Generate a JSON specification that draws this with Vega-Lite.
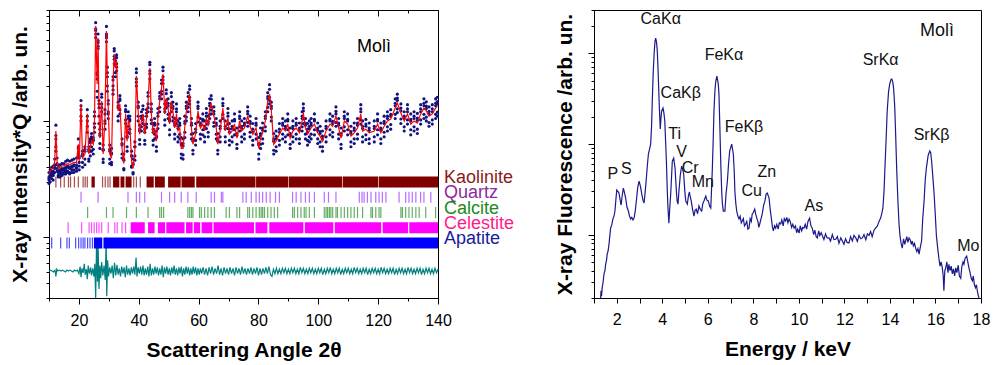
{
  "$schema": "https://vega.github.io/schema/vega-lite/v6.json",
  "padding": {"left": 8, "top": 9, "right": 5, "bottom": 2},
  "background": "white",
  "config": {
    "view": {"stroke": "black", "strokeWidth": 1},
    "font": "Liberation Sans",
    "axis": {"domainColor": "black", "tickColor": "black", "labelColor": "black", "titleColor": "black", "labelFont": "Liberation Sans", "titleFont": "Liberation Sans", "labelFontSize": 16, "titleFontSize": 21, "titleFontWeight": "bold", "grid": false, "labelFlush": false, "labelOverlap": false}
  },
  "datasets": {
    "xrd": [
      {"t":10.0,"c":35,"o1":33,"o2":29,"o3":36,"o4":32,"o5":31},{"t":10.4,"c":37,"o1":34,"o2":30,"o3":38,"o4":35,"o5":33},{"t":10.9,"c":39,"o1":36,"o2":32,"o3":40,"o4":37,"o5":34},{"t":11.4,"c":39,"o1":35,"o2":31,"o3":41,"o4":37,"o5":34},{"t":11.9,"c":45,"o1":40,"o2":36,"o3":47,"o4":42,"o5":39},{"t":12.3,"c":82,"o1":92,"o2":60,"o3":75,"o4":70,"o5":55},{"t":12.7,"c":45,"o1":42,"o2":37,"o3":48,"o4":43,"o5":39},{"t":13.1,"c":39,"o1":36,"o2":33,"o3":41,"o4":37,"o5":34},{"t":13.7,"c":40,"o1":37,"o2":33,"o3":42,"o4":38,"o5":35},{"t":14.3,"c":41,"o1":38,"o2":34,"o3":43,"o4":39,"o5":36},{"t":15.0,"c":41,"o1":39,"o2":35,"o3":43,"o4":38,"o5":36},{"t":15.6,"c":42,"o1":39,"o2":35,"o3":45,"o4":40,"o5":37},{"t":16.2,"c":43,"o1":40,"o2":36,"o3":46,"o4":41,"o5":37},{"t":16.9,"c":42,"o1":39,"o2":35,"o3":45,"o4":40,"o5":36},{"t":17.6,"c":43,"o1":40,"o2":36,"o3":46,"o4":41,"o5":38},{"t":18.3,"c":44,"o1":41,"o2":36,"o3":47,"o4":42,"o5":38},{"t":19.2,"c":44,"o1":40,"o2":37,"o3":48,"o4":42,"o5":39},{"t":19.8,"c":63,"o1":70,"o2":50,"o3":60,"o4":58,"o5":52},{"t":20.1,"c":45,"o1":48,"o2":38,"o3":44,"o4":50,"o5":41},{"t":20.7,"c":140,"o1":150,"o2":110,"o3":135,"o4":125,"o5":100},{"t":21.2,"c":48,"o1":55,"o2":40,"o3":50,"o4":52,"o5":44},{"t":22.0,"c":52,"o1":60,"o2":42,"o3":55,"o4":57,"o5":47},{"t":22.8,"c":115,"o1":125,"o2":90,"o3":110,"o4":100,"o5":80},{"t":23.3,"c":52,"o1":60,"o2":45,"o3":55,"o4":57,"o5":47},{"t":23.8,"c":61,"o1":70,"o2":50,"o3":65,"o4":67,"o5":55},{"t":24.2,"c":67,"o1":78,"o2":55,"o3":70,"o4":73,"o5":60},{"t":24.8,"c":63,"o1":72,"o2":52,"o3":68,"o4":69,"o5":57},{"t":25.2,"c":100,"o1":120,"o2":80,"o3":95,"o4":110,"o5":88},{"t":25.6,"c":655,"o1":700,"o2":520,"o3":620,"o4":600,"o5":560},{"t":26.1,"c":208,"o1":260,"o2":160,"o3":230,"o4":180,"o5":250},{"t":26.4,"c":516,"o1":560,"o2":420,"o3":490,"o4":470,"o5":440},{"t":26.7,"c":122,"o1":150,"o2":95,"o3":130,"o4":110,"o5":140},{"t":27.0,"c":71,"o1":85,"o2":58,"o3":75,"o4":78,"o5":64},{"t":27.6,"c":148,"o1":170,"o2":120,"o3":140,"o4":160,"o5":130},{"t":28.1,"c":52,"o1":62,"o2":44,"o3":56,"o4":57,"o5":47},{"t":28.7,"c":106,"o1":125,"o2":85,"o3":100,"o4":115,"o5":95},{"t":29.2,"c":593,"o1":650,"o2":480,"o3":560,"o4":540,"o5":520},{"t":29.5,"c":220,"o1":260,"o2":180,"o3":240,"o4":200,"o5":290},{"t":29.8,"c":129,"o1":150,"o2":105,"o3":120,"o4":140,"o5":115},{"t":30.3,"c":52,"o1":62,"o2":43,"o3":55,"o4":57,"o5":47},{"t":30.9,"c":48,"o1":58,"o2":42,"o3":52,"o4":53,"o5":44},{"t":31.4,"c":208,"o1":240,"o2":170,"o3":200,"o4":225,"o5":185},{"t":31.8,"c":376,"o1":420,"o2":310,"o3":360,"o4":400,"o5":340},{"t":32.2,"c":285,"o1":330,"o2":240,"o3":300,"o4":310,"o5":260},{"t":32.6,"c":327,"o1":370,"o2":270,"o3":310,"o4":350,"o5":290},{"t":33.1,"c":122,"o1":145,"o2":100,"o3":130,"o4":135,"o5":110},{"t":33.7,"c":140,"o1":165,"o2":115,"o3":150,"o4":155,"o5":125},{"t":34.4,"c":58,"o1":70,"o2":48,"o3":62,"o4":64,"o5":52},{"t":35.0,"c":43,"o1":52,"o2":38,"o3":46,"o4":47,"o5":39},{"t":35.6,"c":115,"o1":135,"o2":95,"o3":120,"o4":125,"o5":102},{"t":36.1,"c":67,"o1":80,"o2":55,"o3":72,"o4":74,"o5":60},{"t":36.5,"c":100,"o1":120,"o2":80,"o3":105,"o4":110,"o5":90},{"t":37.0,"c":94,"o1":110,"o2":78,"o3":100,"o4":103,"o5":85},{"t":37.6,"c":45,"o1":55,"o2":40,"o3":50,"o4":50,"o5":41},{"t":38.1,"c":39,"o1":47,"o2":35,"o3":42,"o4":43,"o5":36},{"t":38.7,"c":55,"o1":66,"o2":46,"o3":60,"o4":60,"o5":50},{"t":39.2,"c":243,"o1":280,"o2":200,"o3":230,"o4":260,"o5":215},{"t":39.8,"c":122,"o1":145,"o2":100,"o3":130,"o4":134,"o5":110},{"t":40.3,"c":77,"o1":92,"o2":63,"o3":82,"o4":85,"o5":69},{"t":40.9,"c":100,"o1":120,"o2":82,"o3":105,"o4":110,"o5":89},{"t":41.4,"c":115,"o1":135,"o2":95,"o3":110,"o4":126,"o5":102},{"t":42.0,"c":77,"o1":92,"o2":63,"o3":80,"o4":85,"o5":68},{"t":42.6,"c":106,"o1":125,"o2":88,"o3":110,"o4":117,"o5":94},{"t":43.1,"c":148,"o1":175,"o2":120,"o3":140,"o4":163,"o5":130},{"t":43.7,"c":285,"o1":320,"o2":230,"o3":270,"o4":305,"o5":255},{"t":44.2,"c":115,"o1":140,"o2":95,"o3":120,"o4":127,"o5":102},{"t":44.8,"c":77,"o1":95,"o2":62,"o3":80,"o4":85,"o5":68},{"t":45.3,"c":87,"o1":105,"o2":70,"o3":92,"o4":96,"o5":77},{"t":45.9,"c":67,"o1":82,"o2":55,"o3":72,"o4":74,"o5":60},{"t":46.4,"c":106,"o1":128,"o2":86,"o3":110,"o4":117,"o5":94},{"t":47.0,"c":148,"o1":175,"o2":120,"o3":155,"o4":163,"o5":131},{"t":47.6,"c":192,"o1":225,"o2":155,"o3":180,"o4":210,"o5":170},{"t":48.1,"c":253,"o1":290,"o2":210,"o3":240,"o4":270,"o5":225},{"t":48.7,"c":115,"o1":140,"o2":92,"o3":120,"o4":127,"o5":102},{"t":49.2,"c":157,"o1":185,"o2":130,"o3":150,"o4":172,"o5":140},{"t":49.8,"c":129,"o1":155,"o2":105,"o3":135,"o4":142,"o5":114},{"t":50.3,"c":94,"o1":115,"o2":76,"o3":100,"o4":103,"o5":84},{"t":50.9,"c":148,"o1":175,"o2":120,"o3":140,"o4":162,"o5":131},{"t":51.4,"c":122,"o1":145,"o2":100,"o3":128,"o4":134,"o5":108},{"t":52.0,"c":87,"o1":105,"o2":70,"o3":92,"o4":96,"o5":77},{"t":52.6,"c":115,"o1":140,"o2":95,"o3":120,"o4":127,"o5":102},{"t":53.1,"c":82,"o1":100,"o2":66,"o3":86,"o4":90,"o5":73},{"t":53.7,"c":87,"o1":105,"o2":70,"o3":92,"o4":96,"o5":77},{"t":54.2,"c":58,"o1":72,"o2":48,"o3":62,"o4":64,"o5":52},{"t":54.8,"c":58,"o1":70,"o2":47,"o3":61,"o4":64,"o5":51},{"t":55.4,"c":90,"o1":110,"o2":72,"o3":95,"o4":99,"o5":80},{"t":55.9,"c":122,"o1":145,"o2":100,"o3":128,"o4":134,"o5":108},{"t":56.5,"c":148,"o1":175,"o2":120,"o3":140,"o4":162,"o5":131},{"t":57.0,"c":170,"o1":200,"o2":140,"o3":160,"o4":187,"o5":150},{"t":57.6,"c":87,"o1":105,"o2":70,"o3":92,"o4":96,"o5":77},{"t":58.1,"c":63,"o1":78,"o2":52,"o3":67,"o4":70,"o5":56},{"t":59.0,"c":77,"o1":95,"o2":62,"o3":80,"o4":85,"o5":68},{"t":59.8,"c":122,"o1":145,"o2":98,"o3":128,"o4":134,"o5":108},{"t":60.6,"c":87,"o1":105,"o2":70,"o3":92,"o4":96,"o5":77},{"t":61.4,"c":94,"o1":115,"o2":76,"o3":100,"o4":103,"o5":84},{"t":62.0,"c":82,"o1":100,"o2":66,"o3":86,"o4":90,"o5":73},{"t":62.6,"c":106,"o1":128,"o2":86,"o3":110,"o4":117,"o5":94},{"t":63.2,"c":90,"o1":110,"o2":73,"o3":95,"o4":99,"o5":80},{"t":63.7,"c":129,"o1":155,"o2":105,"o3":135,"o4":142,"o5":114},{"t":64.2,"c":140,"o1":165,"o2":115,"o3":132,"o4":154,"o5":124},{"t":65.1,"c":110,"o1":132,"o2":90,"o3":115,"o4":121,"o5":97},{"t":65.9,"c":87,"o1":105,"o2":70,"o3":92,"o4":96,"o5":77},{"t":66.4,"c":63,"o1":78,"o2":52,"o3":67,"o4":70,"o5":56},{"t":67.2,"c":82,"o1":100,"o2":66,"o3":86,"o4":90,"o5":73},{"t":68.1,"c":129,"o1":155,"o2":105,"o3":135,"o4":142,"o5":114},{"t":68.9,"c":82,"o1":100,"o2":66,"o3":86,"o4":90,"o5":73},{"t":69.8,"c":106,"o1":128,"o2":86,"o3":110,"o4":117,"o5":94},{"t":70.3,"c":77,"o1":95,"o2":62,"o3":80,"o4":85,"o5":68},{"t":71.2,"c":82,"o1":100,"o2":66,"o3":86,"o4":90,"o5":73},{"t":72.0,"c":94,"o1":115,"o2":76,"o3":100,"o4":103,"o5":84},{"t":72.8,"c":71,"o1":87,"o2":58,"o3":75,"o4":78,"o5":63},{"t":73.7,"c":100,"o1":120,"o2":82,"o3":105,"o4":110,"o5":89},{"t":74.4,"c":82,"o1":100,"o2":66,"o3":86,"o4":90,"o5":73},{"t":75.3,"c":87,"o1":105,"o2":70,"o3":92,"o4":96,"o5":77},{"t":76.4,"c":110,"o1":132,"o2":90,"o3":115,"o4":121,"o5":97},{"t":77.2,"c":90,"o1":110,"o2":73,"o3":95,"o4":99,"o5":80},{"t":78.1,"c":77,"o1":95,"o2":62,"o3":80,"o4":85,"o5":68},{"t":79.2,"c":87,"o1":105,"o2":70,"o3":92,"o4":96,"o5":77},{"t":80.1,"c":58,"o1":72,"o2":47,"o3":62,"o4":64,"o5":52},{"t":80.7,"c":71,"o1":87,"o2":58,"o3":75,"o4":78,"o5":63},{"t":81.4,"c":79,"o1":96,"o2":64,"o3":83,"o4":87,"o5":70},{"t":82.3,"c":100,"o1":120,"o2":82,"o3":105,"o4":110,"o5":89},{"t":83.1,"c":148,"o1":175,"o2":120,"o3":155,"o4":162,"o5":131},{"t":83.7,"c":170,"o1":205,"o2":140,"o3":160,"o4":187,"o5":150},{"t":84.3,"c":122,"o1":145,"o2":100,"o3":128,"o4":134,"o5":108},{"t":85.1,"c":63,"o1":78,"o2":52,"o3":67,"o4":70,"o5":56},{"t":85.9,"c":67,"o1":82,"o2":55,"o3":70,"o4":74,"o5":60},{"t":87.0,"c":77,"o1":95,"o2":62,"o3":80,"o4":85,"o5":68},{"t":88.1,"c":87,"o1":105,"o2":70,"o3":92,"o4":96,"o5":77},{"t":89.0,"c":82,"o1":100,"o2":66,"o3":86,"o4":90,"o5":73},{"t":89.8,"c":94,"o1":115,"o2":76,"o3":100,"o4":103,"o5":84},{"t":90.6,"c":71,"o1":87,"o2":58,"o3":75,"o4":78,"o5":63},{"t":91.5,"c":82,"o1":100,"o2":66,"o3":86,"o4":90,"o5":73},{"t":92.6,"c":87,"o1":105,"o2":70,"o3":92,"o4":96,"o5":77},{"t":93.7,"c":79,"o1":96,"o2":64,"o3":83,"o4":87,"o5":70},{"t":94.6,"c":100,"o1":120,"o2":82,"o3":105,"o4":110,"o5":89},{"t":95.0,"c":117,"o1":140,"o2":95,"o3":122,"o4":129,"o5":104},{"t":95.7,"c":87,"o1":105,"o2":70,"o3":92,"o4":96,"o5":77},{"t":96.4,"c":77,"o1":95,"o2":62,"o3":80,"o4":85,"o5":68},{"t":97.0,"c":82,"o1":100,"o2":66,"o3":86,"o4":90,"o5":73},{"t":97.6,"c":87,"o1":105,"o2":70,"o3":92,"o4":96,"o5":77},{"t":98.7,"c":94,"o1":115,"o2":76,"o3":100,"o4":103,"o5":84},{"t":99.8,"c":79,"o1":96,"o2":64,"o3":83,"o4":87,"o5":70},{"t":100.6,"c":74,"o1":90,"o2":60,"o3":78,"o4":81,"o5":66},{"t":101.4,"c":67,"o1":82,"o2":55,"o3":70,"o4":74,"o5":60},{"t":102.6,"c":82,"o1":100,"o2":66,"o3":86,"o4":90,"o5":73},{"t":103.9,"c":94,"o1":115,"o2":76,"o3":100,"o4":103,"o5":84},{"t":104.8,"c":90,"o1":110,"o2":73,"o3":95,"o4":99,"o5":80},{"t":105.9,"c":110,"o1":132,"o2":90,"o3":115,"o4":121,"o5":97},{"t":106.8,"c":87,"o1":105,"o2":70,"o3":92,"o4":96,"o5":77},{"t":107.6,"c":71,"o1":87,"o2":58,"o3":75,"o4":78,"o5":63},{"t":108.7,"c":100,"o1":120,"o2":82,"o3":105,"o4":110,"o5":89},{"t":109.8,"c":94,"o1":115,"o2":76,"o3":100,"o4":103,"o5":84},{"t":110.9,"c":74,"o1":90,"o2":60,"o3":78,"o4":81,"o5":66},{"t":112.0,"c":79,"o1":96,"o2":64,"o3":83,"o4":87,"o5":70},{"t":113.1,"c":87,"o1":105,"o2":70,"o3":92,"o4":96,"o5":77},{"t":114.2,"c":115,"o1":138,"o2":94,"o3":120,"o4":127,"o5":102},{"t":114.8,"c":82,"o1":100,"o2":66,"o3":86,"o4":90,"o5":73},{"t":115.9,"c":85,"o1":103,"o2":69,"o3":90,"o4":94,"o5":76},{"t":117.0,"c":79,"o1":96,"o2":64,"o3":83,"o4":87,"o5":70},{"t":118.7,"c":82,"o1":100,"o2":66,"o3":86,"o4":90,"o5":73},{"t":119.8,"c":94,"o1":115,"o2":76,"o3":100,"o4":103,"o5":84},{"t":120.9,"c":79,"o1":96,"o2":64,"o3":83,"o4":87,"o5":70},{"t":122.0,"c":90,"o1":110,"o2":73,"o3":95,"o4":99,"o5":80},{"t":123.1,"c":100,"o1":120,"o2":82,"o3":105,"o4":110,"o5":89},{"t":124.2,"c":104,"o1":125,"o2":85,"o3":110,"o4":114,"o5":93},{"t":125.7,"c":129,"o1":155,"o2":105,"o3":135,"o4":142,"o5":114},{"t":126.4,"c":143,"o1":170,"o2":118,"o3":150,"o4":157,"o5":127},{"t":127.6,"c":117,"o1":140,"o2":95,"o3":122,"o4":129,"o5":104},{"t":128.7,"c":100,"o1":120,"o2":82,"o3":105,"o4":110,"o5":89},{"t":129.8,"c":115,"o1":138,"o2":94,"o3":120,"o4":127,"o5":102},{"t":130.9,"c":94,"o1":115,"o2":76,"o3":100,"o4":103,"o5":84},{"t":132.0,"c":100,"o1":120,"o2":82,"o3":105,"o4":110,"o5":89},{"t":133.1,"c":96,"o1":116,"o2":78,"o3":101,"o4":106,"o5":85},{"t":134.2,"c":115,"o1":138,"o2":94,"o3":120,"o4":127,"o5":102},{"t":135.3,"c":129,"o1":155,"o2":105,"o3":135,"o4":142,"o5":114},{"t":136.1,"c":122,"o1":146,"o2":100,"o3":128,"o4":134,"o5":108},{"t":137.0,"c":110,"o1":132,"o2":90,"o3":115,"o4":121,"o5":97},{"t":138.1,"c":115,"o1":138,"o2":94,"o3":120,"o4":127,"o5":102},{"t":139.2,"c":129,"o1":155,"o2":105,"o3":135,"o4":142,"o5":114},{"t":139.8,"c":134,"o1":160,"o2":110,"o3":140,"o4":147,"o5":119}
    ],
    "res": [
      {"t":10.0,"r":0},{"t":10.5,"r":1},{"t":11.0,"r":0},{"t":11.5,"r":-1},{"t":12.0,"r":1},{"t":12.3,"r":-6},{"t":12.6,"r":2},{"t":13.0,"r":0},{"t":13.5,"r":1},{"t":14.0,"r":0},{"t":14.5,"r":1},{"t":15.0,"r":0},{"t":15.5,"r":-1},{"t":16.0,"r":1},{"t":16.5,"r":0},{"t":17.0,"r":1},{"t":17.5,"r":0},{"t":18.0,"r":-1},{"t":18.5,"r":1},{"t":19.0,"r":0},{"t":19.5,"r":1},
      {"t":20.0,"r":-3},{"t":20.4,"r":5},{"t":20.7,"r":-7},{"t":21.0,"r":3},{"t":21.4,"r":-2},{"t":21.8,"r":8},{"t":22.1,"r":-4},{"t":22.5,"r":2},{"t":22.8,"r":-9},{"t":23.1,"r":6},{"t":23.5,"r":-3},{"t":23.9,"r":4},{"t":24.2,"r":-5},{"t":24.6,"r":3},{"t":25.0,"r":-6},{"t":25.3,"r":8},{"t":25.6,"r":-30},{"t":25.9,"r":33},{"t":26.2,"r":-12},{"t":26.4,"r":30},{"t":26.7,"r":-20},{"t":27.0,"r":6},{"t":27.3,"r":-8},{"t":27.6,"r":10},{"t":28.0,"r":-5},{"t":28.4,"r":6},{"t":28.8,"r":-10},{"t":29.1,"r":37},{"t":29.3,"r":-28},{"t":29.6,"r":12},{"t":29.9,"r":-6},{"t":30.3,"r":4},{"t":30.7,"r":-3},{"t":31.1,"r":6},{"t":31.5,"r":-8},{"t":31.9,"r":9},{"t":32.3,"r":-5},{"t":32.7,"r":7},{"t":33.1,"r":-4},{"t":33.5,"r":3},{"t":33.9,"r":-6},{"t":34.3,"r":5},{"t":34.7,"r":-3},{"t":35.1,"r":4},{"t":35.5,"r":-7},{"t":35.9,"r":6},{"t":36.3,"r":-4},{"t":36.7,"r":3},{"t":37.1,"r":-5},{"t":37.5,"r":4},{"t":37.9,"r":-3},{"t":38.3,"r":5},{"t":38.7,"r":-4},{"t":39.1,"r":15},{"t":39.4,"r":-6},{"t":39.8,"r":4},{"t":40.2,"r":-3},{"t":40.6,"r":5},{"t":41.0,"r":-4},{"t":41.4,"r":6},{"t":41.8,"r":-5},{"t":42.2,"r":3},{"t":42.6,"r":-4},{"t":43.0,"r":5},{"t":43.4,"r":-6},{"t":43.8,"r":8},{"t":44.2,"r":-5},{"t":44.6,"r":3},{"t":45.0,"r":-4},{"t":45.4,"r":5},{"t":45.8,"r":-3},{"t":46.2,"r":4},{"t":46.6,"r":-5},{"t":47.0,"r":3},{"t":47.4,"r":-4},{"t":47.8,"r":6},{"t":48.2,"r":-7},{"t":48.6,"r":4},{"t":49.0,"r":-3},{"t":49.4,"r":5},{"t":49.8,"r":-4},{"t":50.2,"r":3},{"t":50.6,"r":-5},{"t":51.0,"r":4},{"t":51.4,"r":-3},{"t":51.8,"r":6},{"t":52.2,"r":-4},{"t":52.6,"r":3},{"t":53.0,"r":-5},{"t":53.4,"r":4},{"t":53.8,"r":-3},{"t":54.2,"r":5},{"t":54.6,"r":-6},{"t":55.0,"r":3},{"t":55.4,"r":-4},{"t":55.8,"r":5},{"t":56.2,"r":-3},{"t":56.6,"r":4},{"t":57.0,"r":-5},{"t":57.4,"r":3},{"t":57.8,"r":-4},{"t":58.2,"r":5},{"t":58.6,"r":-3},{"t":59.0,"r":4},{"t":59.4,"r":-5},{"t":59.8,"r":3},{"t":60.2,"r":-4},{"t":60.6,"r":3},{"t":61.0,"r":-3},{"t":61.5,"r":4},{"t":62.0,"r":-4},{"t":62.5,"r":3},{"t":63.0,"r":-5},{"t":63.5,"r":4},{"t":64.0,"r":-3},{"t":64.5,"r":5},{"t":65.0,"r":-4},{"t":65.5,"r":3},{"t":66.0,"r":-3},{"t":66.5,"r":6},{"t":67.0,"r":-4},{"t":67.5,"r":3},{"t":68.0,"r":-5},{"t":68.5,"r":4},{"t":69.0,"r":-3},{"t":69.5,"r":3},{"t":70.0,"r":-4},{"t":70.5,"r":4},{"t":71.0,"r":-3},{"t":71.5,"r":3},{"t":72.0,"r":-5},{"t":72.5,"r":4},{"t":73.0,"r":-3},{"t":73.5,"r":3},{"t":74.0,"r":-4},{"t":74.5,"r":5},{"t":75.0,"r":-3},{"t":75.5,"r":3},{"t":76.0,"r":-4},{"t":76.5,"r":3},{"t":77.0,"r":-3},{"t":77.5,"r":4},{"t":78.0,"r":-4},{"t":78.5,"r":3},{"t":79.0,"r":-3},{"t":79.5,"r":4},{"t":80.0,"r":-5},{"t":80.5,"r":3},{"t":81.0,"r":-4},{"t":81.5,"r":3},{"t":82.0,"r":-3},{"t":82.5,"r":4},{"t":83.0,"r":-3},{"t":83.5,"r":5},{"t":84.0,"r":-4},{"t":84.5,"r":-6},{"t":85.0,"r":2},{"t":85.5,"r":-3},{"t":86.0,"r":3},{"t":86.5,"r":-3},{"t":87.0,"r":2},{"t":87.5,"r":-3},{"t":88.0,"r":3},{"t":88.5,"r":-2},{"t":89.0,"r":3},{"t":89.5,"r":-3},{"t":90.0,"r":2},{"t":90.5,"r":-3},{"t":91.0,"r":3},{"t":91.5,"r":-2},{"t":92.0,"r":3},{"t":92.5,"r":-3},{"t":93.0,"r":2},{"t":93.5,"r":-3},{"t":94.0,"r":4},{"t":94.5,"r":-2},{"t":95.0,"r":3},{"t":95.5,"r":-3},{"t":96.0,"r":2},{"t":96.5,"r":-3},{"t":97.0,"r":3},{"t":97.5,"r":-2},{"t":98.0,"r":3},{"t":98.5,"r":-3},{"t":99.0,"r":2},{"t":99.5,"r":-3},{"t":100.0,"r":3},{"t":100.5,"r":-2},{"t":101.0,"r":3},{"t":101.5,"r":-4},{"t":102.0,"r":2},{"t":102.5,"r":-3},{"t":103.0,"r":3},{"t":103.5,"r":-2},{"t":104.0,"r":4},{"t":104.5,"r":-3},{"t":105.0,"r":2},{"t":105.5,"r":-3},{"t":106.0,"r":3},{"t":106.5,"r":-2},{"t":107.0,"r":3},{"t":107.5,"r":-4},{"t":108.0,"r":2},{"t":108.5,"r":-3},{"t":109.0,"r":3},{"t":109.5,"r":-2},{"t":110.0,"r":3},{"t":110.5,"r":-3},{"t":111.0,"r":2},{"t":111.5,"r":-3},{"t":112.0,"r":4},{"t":112.5,"r":-2},{"t":113.0,"r":3},{"t":113.5,"r":-3},{"t":114.0,"r":2},{"t":114.5,"r":-3},{"t":115.0,"r":3},{"t":115.5,"r":-2},{"t":116.0,"r":3},{"t":116.5,"r":-4},{"t":117.0,"r":2},{"t":117.5,"r":-3},{"t":118.0,"r":3},{"t":118.5,"r":-2},{"t":119.0,"r":3},{"t":119.5,"r":-3},{"t":120.0,"r":2},{"t":120.5,"r":-3},{"t":121.0,"r":4},{"t":121.5,"r":-2},{"t":122.0,"r":3},{"t":122.5,"r":-3},{"t":123.0,"r":2},{"t":123.5,"r":-3},{"t":124.0,"r":3},{"t":124.5,"r":-2},{"t":125.0,"r":3},{"t":125.5,"r":-4},{"t":126.0,"r":2},{"t":126.5,"r":-3},{"t":127.0,"r":3},{"t":127.5,"r":-2},{"t":128.0,"r":3},{"t":128.5,"r":-3},{"t":129.0,"r":2},{"t":129.5,"r":-3},{"t":130.0,"r":4},{"t":130.5,"r":-2},{"t":131.0,"r":3},{"t":131.5,"r":-3},{"t":132.0,"r":2},{"t":132.5,"r":-3},{"t":133.0,"r":3},{"t":133.5,"r":-2},{"t":134.0,"r":3},{"t":134.5,"r":-4},{"t":135.0,"r":2},{"t":135.5,"r":-3},{"t":136.0,"r":3},{"t":136.5,"r":-2},{"t":137.0,"r":3},{"t":137.5,"r":-3},{"t":138.0,"r":2},{"t":138.5,"r":-3},{"t":139.0,"r":3},{"t":139.5,"r":-2},{"t":140.0,"r":2}
    ],
    "pt": [
      {"p":"Kaolinite","t":12.3},{"p":"Kaolinite","t":13.9},{"p":"Kaolinite","t":15.1},{"p":"Kaolinite","t":16.5},{"p":"Kaolinite","t":17.2},{"p":"Kaolinite","t":18.5},{"p":"Kaolinite","t":19.8},{"p":"Kaolinite","t":21.4},{"p":"Kaolinite","t":22.1},{"p":"Kaolinite","t":22.8},{"p":"Kaolinite","t":27.9},{"p":"Kaolinite","t":28.8},{"p":"Kaolinite","t":29.7},{"p":"Kaolinite","t":30.4},{"p":"Kaolinite","t":38.3},{"p":"Kaolinite","t":39.2},{"p":"Kaolinite","t":40.5},
      {"p":"Quartz","t":20.7},{"p":"Quartz","t":26.4},{"p":"Quartz","t":36.4},{"p":"Quartz","t":39.2},{"p":"Quartz","t":40.3},{"p":"Quartz","t":42.0},{"p":"Quartz","t":47.6},{"p":"Quartz","t":50.3},{"p":"Quartz","t":52.0},{"p":"Quartz","t":54.2},{"p":"Quartz","t":56.4},{"p":"Quartz","t":59.2},{"p":"Quartz","t":64.2},{"p":"Quartz","t":65.3},{"p":"Quartz","t":67.6},{"p":"Quartz","t":68.1},{"p":"Quartz","t":74.8},{"p":"Quartz","t":75.9},{"p":"Quartz","t":77.6},{"p":"Quartz","t":79.2},{"p":"Quartz","t":80.3},{"p":"Quartz","t":81.4},{"p":"Quartz","t":82.6},{"p":"Quartz","t":83.9},{"p":"Quartz","t":85.7},{"p":"Quartz","t":87.0},{"p":"Quartz","t":91.4},{"p":"Quartz","t":92.6},{"p":"Quartz","t":94.2},{"p":"Quartz","t":95.7},{"p":"Quartz","t":97.0},{"p":"Quartz","t":98.7},{"p":"Quartz","t":102.0},{"p":"Quartz","t":103.4},{"p":"Quartz","t":105.9},{"p":"Quartz","t":113.7},{"p":"Quartz","t":114.6},{"p":"Quartz","t":115.3},{"p":"Quartz","t":116.4},{"p":"Quartz","t":117.6},{"p":"Quartz","t":119.2},{"p":"Quartz","t":120.3},{"p":"Quartz","t":121.4},{"p":"Quartz","t":122.6},{"p":"Quartz","t":127.0},{"p":"Quartz","t":129.2},{"p":"Quartz","t":130.3},{"p":"Quartz","t":131.4},{"p":"Quartz","t":132.6},{"p":"Quartz","t":134.2},{"p":"Quartz","t":135.3},{"p":"Quartz","t":137.6},
      {"p":"Calcite","t":22.9},{"p":"Calcite","t":29.2},{"p":"Calcite","t":31.4},{"p":"Calcite","t":35.9},{"p":"Calcite","t":39.2},{"p":"Calcite","t":43.1},{"p":"Calcite","t":47.0},{"p":"Calcite","t":47.6},{"p":"Calcite","t":48.3},{"p":"Calcite","t":56.4},{"p":"Calcite","t":57.0},{"p":"Calcite","t":57.6},{"p":"Calcite","t":58.1},{"p":"Calcite","t":60.3},{"p":"Calcite","t":60.9},{"p":"Calcite","t":62.0},{"p":"Calcite","t":63.1},{"p":"Calcite","t":64.2},{"p":"Calcite","t":65.3},{"p":"Calcite","t":69.2},{"p":"Calcite","t":70.3},{"p":"Calcite","t":72.8},{"p":"Calcite","t":73.7},{"p":"Calcite","t":76.4},{"p":"Calcite","t":77.0},{"p":"Calcite","t":78.1},{"p":"Calcite","t":79.2},{"p":"Calcite","t":80.3},{"p":"Calcite","t":80.9},{"p":"Calcite","t":81.4},{"p":"Calcite","t":82.0},{"p":"Calcite","t":83.1},{"p":"Calcite","t":84.2},{"p":"Calcite","t":85.3},{"p":"Calcite","t":86.4},{"p":"Calcite","t":91.4},{"p":"Calcite","t":92.0},{"p":"Calcite","t":93.1},{"p":"Calcite","t":94.2},{"p":"Calcite","t":95.3},{"p":"Calcite","t":95.9},{"p":"Calcite","t":97.0},{"p":"Calcite","t":98.7},{"p":"Calcite","t":102.0},{"p":"Calcite","t":102.6},{"p":"Calcite","t":103.1},{"p":"Calcite","t":103.7},{"p":"Calcite","t":104.2},{"p":"Calcite","t":104.8},{"p":"Calcite","t":105.9},{"p":"Calcite","t":106.4},{"p":"Calcite","t":107.6},{"p":"Calcite","t":108.7},{"p":"Calcite","t":109.8},{"p":"Calcite","t":110.9},{"p":"Calcite","t":112.0},{"p":"Calcite","t":113.1},{"p":"Calcite","t":114.8},{"p":"Calcite","t":117.6},{"p":"Calcite","t":118.1},{"p":"Calcite","t":119.2},{"p":"Calcite","t":120.3},{"p":"Calcite","t":120.9},{"p":"Calcite","t":127.6},{"p":"Calcite","t":128.1},{"p":"Calcite","t":129.2},{"p":"Calcite","t":130.3},{"p":"Calcite","t":131.4},{"p":"Calcite","t":132.6},{"p":"Calcite","t":133.7},{"p":"Calcite","t":135.9},{"p":"Calcite","t":139.2},
      {"p":"Celestite","t":16.4},{"p":"Celestite","t":20.9},{"p":"Celestite","t":23.4},{"p":"Celestite","t":24.2},{"p":"Celestite","t":25.1},{"p":"Celestite","t":25.9},{"p":"Celestite","t":26.7},{"p":"Celestite","t":27.6},{"p":"Celestite","t":29.8},{"p":"Celestite","t":32.0},{"p":"Celestite","t":32.8},{"p":"Celestite","t":34.4},{"p":"Celestite","t":35.6},
      {"p":"Apatite","t":10.9},{"p":"Apatite","t":13.9},{"p":"Apatite","t":16.0},{"p":"Apatite","t":16.8},{"p":"Apatite","t":18.9},{"p":"Apatite","t":19.9},{"p":"Apatite","t":20.7},{"p":"Apatite","t":21.4},{"p":"Apatite","t":22.0},{"p":"Apatite","t":22.9},{"p":"Apatite","t":23.7},{"p":"Apatite","t":24.5}
    ],
    "pb": [
      {"p":"Kaolinite","t":24.2,"t2":25.3},{"p":"Kaolinite","t":31.4,"t2":33.5},{"p":"Kaolinite","t":33.9,"t2":35.2},{"p":"Kaolinite","t":35.6,"t2":37.6},{"p":"Kaolinite","t":42.6,"t2":45.0},{"p":"Kaolinite","t":45.4,"t2":48.7},{"p":"Kaolinite","t":49.8,"t2":54.0},{"p":"Kaolinite","t":54.3,"t2":58.7},{"p":"Kaolinite","t":59.2,"t2":79.0},{"p":"Kaolinite","t":79.2,"t2":90.0},{"p":"Kaolinite","t":90.2,"t2":108.0},{"p":"Kaolinite","t":108.2,"t2":120.0},{"p":"Kaolinite","t":120.2,"t2":140.0},
      {"p":"Celestite","t":37.3,"t2":42.0},{"p":"Celestite","t":43.1,"t2":45.3},{"p":"Celestite","t":46.4,"t2":48.8},{"p":"Celestite","t":49.2,"t2":55.3},{"p":"Celestite","t":55.8,"t2":58.0},{"p":"Celestite","t":58.4,"t2":60.5},{"p":"Celestite","t":61.0,"t2":64.6},{"p":"Celestite","t":65.0,"t2":78.5},{"p":"Celestite","t":79.0,"t2":83.0},{"p":"Celestite","t":83.6,"t2":95.0},{"p":"Celestite","t":95.5,"t2":105.0},{"p":"Celestite","t":105.5,"t2":121.0},{"p":"Celestite","t":121.5,"t2":130.0},{"p":"Celestite","t":130.4,"t2":140.0},
      {"p":"Apatite","t":25.0,"t2":27.8},{"p":"Apatite","t":28.2,"t2":140.0}
    ],
    "phases": [{"p":"Kaolinite"},{"p":"Quartz"},{"p":"Calcite"},{"p":"Celestite"},{"p":"Apatite"}],
    "xrf": [
      {"e":1.29,"c":20},{"e":1.31,"c":24},{"e":1.33,"c":21},{"e":1.36,"c":26},{"e":1.40,"c":30},{"e":1.44,"c":37},{"e":1.48,"c":40},{"e":1.51,"c":47},{"e":1.55,"c":52},{"e":1.58,"c":61},{"e":1.62,"c":66},{"e":1.66,"c":79},{"e":1.70,"c":100},{"e":1.73,"c":118},{"e":1.78,"c":128},{"e":1.83,"c":149},{"e":1.88,"c":160},{"e":1.92,"c":182},{"e":1.96,"c":240},{"e":2.00,"c":310},{"e":2.05,"c":300},{"e":2.10,"c":287},{"e":2.15,"c":240},{"e":2.19,"c":212},{"e":2.24,"c":270},{"e":2.29,"c":326},{"e":2.34,"c":290},{"e":2.39,"c":253},{"e":2.45,"c":200},{"e":2.51,"c":182},{"e":2.56,"c":160},{"e":2.61,"c":149},{"e":2.66,"c":155},{"e":2.71,"c":145},{"e":2.76,"c":152},{"e":2.81,"c":180},{"e":2.86,"c":235},{"e":2.92,"c":330},{"e":2.98,"c":390},{"e":3.04,"c":340},{"e":3.10,"c":280},{"e":3.15,"c":240},{"e":3.20,"c":223},{"e":3.25,"c":300},{"e":3.30,"c":421},{"e":3.35,"c":600},{"e":3.39,"c":774},{"e":3.45,"c":900},{"e":3.49,"c":997},{"e":3.53,"c":1600},{"e":3.56,"c":2970},{"e":3.60,"c":6000},{"e":3.64,"c":9800},{"e":3.68,"c":13500},{"e":3.71,"c":14700},{"e":3.75,"c":13000},{"e":3.78,"c":10570},{"e":3.82,"c":6000},{"e":3.86,"c":2970},{"e":3.91,"c":1459},{"e":3.94,"c":1900},{"e":3.97,"c":2305},{"e":4.03,"c":2490},{"e":4.07,"c":2200},{"e":4.11,"c":1790},{"e":4.15,"c":1000},{"e":4.18,"c":648},{"e":4.22,"c":300},{"e":4.25,"c":196},{"e":4.29,"c":134},{"e":4.33,"c":200},{"e":4.37,"c":280},{"e":4.44,"c":648},{"e":4.50,"c":699},{"e":4.56,"c":542},{"e":4.62,"c":300},{"e":4.65,"c":235},{"e":4.69,"c":217},{"e":4.73,"c":300},{"e":4.79,"c":450},{"e":4.85,"c":570},{"e":4.90,"c":520},{"e":4.94,"c":466},{"e":4.99,"c":300},{"e":5.03,"c":235},{"e":5.10,"c":217},{"e":5.15,"c":270},{"e":5.19,"c":295},{"e":5.23,"c":260},{"e":5.27,"c":235},{"e":5.33,"c":190},{"e":5.39,"c":160},{"e":5.44,"c":185},{"e":5.49,"c":191},{"e":5.55,"c":170},{"e":5.61,"c":207},{"e":5.67,"c":190},{"e":5.73,"c":182},{"e":5.78,"c":220},{"e":5.83,"c":235},{"e":5.87,"c":250},{"e":5.91,"c":266},{"e":5.96,"c":240},{"e":6.02,"c":235},{"e":6.08,"c":205},{"e":6.13,"c":196},{"e":6.17,"c":350},{"e":6.20,"c":542},{"e":6.24,"c":1200},{"e":6.27,"c":2305},{"e":6.31,"c":3800},{"e":6.35,"c":4937},{"e":6.40,"c":5605},{"e":6.46,"c":4575},{"e":6.49,"c":3500},{"e":6.53,"c":1497},{"e":6.57,"c":600},{"e":6.61,"c":295},{"e":6.64,"c":220},{"e":6.68,"c":182},{"e":6.75,"c":182},{"e":6.80,"c":280},{"e":6.86,"c":390},{"e":6.91,"c":600},{"e":6.96,"c":836},{"e":7.05,"c":997},{"e":7.12,"c":774},{"e":7.16,"c":500},{"e":7.19,"c":295},{"e":7.23,"c":220},{"e":7.27,"c":182},{"e":7.32,"c":160},{"e":7.37,"c":149},{"e":7.42,"c":160},{"e":7.47,"c":135},{"e":7.51,"c":141},{"e":7.56,"c":150},{"e":7.61,"c":125},{"e":7.66,"c":131},{"e":7.71,"c":140},{"e":7.76,"c":115},{"e":7.81,"c":118},{"e":7.86,"c":150},{"e":7.91,"c":140},{"e":7.95,"c":169},{"e":8.00,"c":175},{"e":8.06,"c":191},{"e":8.10,"c":170},{"e":8.15,"c":152},{"e":8.20,"c":140},{"e":8.24,"c":120},{"e":8.28,"c":131},{"e":8.34,"c":150},{"e":8.39,"c":169},{"e":8.45,"c":210},{"e":8.51,"c":235},{"e":8.56,"c":280},{"e":8.61,"c":287},{"e":8.65,"c":270},{"e":8.69,"c":253},{"e":8.74,"c":190},{"e":8.79,"c":152},{"e":8.84,"c":120},{"e":8.88,"c":110},{"e":8.93,"c":125},{"e":8.98,"c":118},{"e":9.03,"c":130},{"e":9.09,"c":115},{"e":9.14,"c":135},{"e":9.20,"c":131},{"e":9.25,"c":145},{"e":9.31,"c":125},{"e":9.36,"c":150},{"e":9.42,"c":141},{"e":9.47,"c":155},{"e":9.52,"c":135},{"e":9.57,"c":148},{"e":9.62,"c":140},{"e":9.68,"c":120},{"e":9.73,"c":130},{"e":9.79,"c":118},{"e":9.85,"c":125},{"e":9.90,"c":105},{"e":9.95,"c":115},{"e":10.01,"c":104},{"e":10.06,"c":125},{"e":10.12,"c":110},{"e":10.17,"c":120},{"e":10.22,"c":118},{"e":10.28,"c":130},{"e":10.34,"c":115},{"e":10.40,"c":140},{"e":10.47,"c":152},{"e":10.53,"c":125},{"e":10.59,"c":118},{"e":10.65,"c":100},{"e":10.70,"c":112},{"e":10.76,"c":95},{"e":10.81,"c":92},{"e":10.87,"c":110},{"e":10.92,"c":98},{"e":10.98,"c":105},{"e":11.03,"c":98},{"e":11.10,"c":88},{"e":11.17,"c":102},{"e":11.24,"c":92},{"e":11.32,"c":92},{"e":11.39,"c":85},{"e":11.47,"c":100},{"e":11.54,"c":88},{"e":11.62,"c":89},{"e":11.69,"c":95},{"e":11.76,"c":80},{"e":11.84,"c":92},{"e":11.91,"c":85},{"e":11.98,"c":78},{"e":12.05,"c":90},{"e":12.12,"c":82},{"e":12.20,"c":81},{"e":12.27,"c":95},{"e":12.35,"c":85},{"e":12.42,"c":98},{"e":12.50,"c":92},{"e":12.57,"c":84},{"e":12.64,"c":98},{"e":12.72,"c":90},{"e":12.79,"c":92},{"e":12.86,"c":100},{"e":12.94,"c":88},{"e":13.01,"c":102},{"e":13.08,"c":98},{"e":13.15,"c":108},{"e":13.22,"c":95},{"e":13.30,"c":112},{"e":13.37,"c":118},{"e":13.45,"c":125},{"e":13.52,"c":140},{"e":13.59,"c":152},{"e":13.64,"c":170},{"e":13.69,"c":196},{"e":13.74,"c":300},{"e":13.78,"c":542},{"e":13.83,"c":1100},{"e":13.88,"c":2305},{"e":13.94,"c":3800},{"e":13.99,"c":4575},{"e":14.04,"c":5100},{"e":14.08,"c":5200},{"e":14.12,"c":4900},{"e":14.16,"c":4133},{"e":14.21,"c":2600},{"e":14.25,"c":1285},{"e":14.30,"c":500},{"e":14.35,"c":235},{"e":14.40,"c":130},{"e":14.44,"c":98},{"e":14.49,"c":80},{"e":14.54,"c":71},{"e":14.60,"c":90},{"e":14.65,"c":78},{"e":14.69,"c":85},{"e":14.74,"c":95},{"e":14.79,"c":82},{"e":14.84,"c":92},{"e":14.89,"c":88},{"e":14.94,"c":78},{"e":14.98,"c":85},{"e":15.03,"c":75},{"e":15.08,"c":80},{"e":15.13,"c":71},{"e":15.18,"c":65},{"e":15.23,"c":70},{"e":15.28,"c":61},{"e":15.33,"c":72},{"e":15.39,"c":85},{"e":15.44,"c":150},{"e":15.50,"c":235},{"e":15.55,"c":400},{"e":15.60,"c":542},{"e":15.68,"c":750},{"e":15.75,"c":836},{"e":15.79,"c":800},{"e":15.83,"c":648},{"e":15.88,"c":450},{"e":15.94,"c":280},{"e":15.99,"c":170},{"e":16.04,"c":98},{"e":16.10,"c":70},{"e":16.15,"c":55},{"e":16.20,"c":45},{"e":16.25,"c":50},{"e":16.30,"c":43},{"e":16.34,"c":35},{"e":16.37,"c":24},{"e":16.41,"c":40},{"e":16.45,"c":43},{"e":16.50,"c":50},{"e":16.55,"c":38},{"e":16.59,"c":47},{"e":16.64,"c":40},{"e":16.69,"c":45},{"e":16.74,"c":37},{"e":16.79,"c":42},{"e":16.84,"c":35},{"e":16.89,"c":43},{"e":16.94,"c":38},{"e":17.00,"c":46},{"e":17.05,"c":35},{"e":17.11,"c":33},{"e":17.16,"c":45},{"e":17.21,"c":50},{"e":17.25,"c":47},{"e":17.30,"c":55},{"e":17.37,"c":58},{"e":17.42,"c":50},{"e":17.47,"c":43},{"e":17.52,"c":38},{"e":17.57,"c":33},{"e":17.62,"c":31},{"e":17.66,"c":35},{"e":17.71,"c":28},{"e":17.76,"c":26},{"e":17.80,"c":28},{"e":17.85,"c":23},{"e":17.91,"c":20}
    ],
    "xl": [
      {"s":"CaKα","e":3.93,"v":23650},{"s":"CaKβ","e":4.81,"v":3670},{"s":"Ti","e":4.54,"v":1295},{"s":"V","e":4.85,"v":820},{"s":"Cr","e":5.22,"v":540},{"s":"Mn","e":5.78,"v":385},{"s":"P","e":1.83,"v":462},{"s":"S","e":2.42,"v":533},{"s":"FeKα","e":6.71,"v":9550},{"s":"FeKβ","e":7.59,"v":1536},{"s":"Zn","e":8.59,"v":494},{"s":"Cu","e":7.93,"v":303},{"s":"As","e":10.66,"v":207},{"s":"SrKα","e":13.59,"v":8350},{"s":"SrKβ","e":15.83,"v":1254},{"s":"Mo","e":17.44,"v":75},{"s":"Molì","e":16.07,"v":17580}
    ]
  },
  "hconcat": [
    {
      "width": 389,
      "height": 288,
      "layer": [
        {
          "data": {"name": "xrd"},
          "transform": [{"fold": ["o1", "o2", "o3", "o4", "o5"], "as": ["k", "obs"]}],
          "mark": {"type": "circle", "size": 10, "color": "#12127e", "opacity": 1},
          "encoding": {
            "x": {"field": "t", "type": "quantitative", "scale": {"domain": [10, 140]},
                  "axis": {"orient": "bottom", "values": [10,20,30,40,50,60,70,80,90,100,110,120,130,140], "labelExpr": "datum.value % 20 == 0 ? '' + datum.value : ''", "tickSize": {"condition": {"test": "datum.value % 20 == 0", "value": 6}, "value": 3}, "labelPadding": 8, "title": "Scattering Angle 2θ", "titlePadding": 11}},
            "y": {"field": "obs", "type": "quantitative", "scale": {"type": "log", "domain": [3, 900]},
                  "axis": {"values": [3,4,5,6,7,8,9,10,20,30,40,50,60,70,80,90,100,200,300,400,500,600,700,800,900], "labels": false, "tickSize": {"condition": {"test": "datum.value == 10 || datum.value == 100", "value": 6}, "value": 3}, "title": "X-ray Intensity*Q /arb. un.", "titlePadding": 12}}
          }
        },
        {
          "data": {"name": "xrd"},
          "mark": {"type": "line", "color": "#ff0000", "strokeWidth": 1.2},
          "encoding": {
            "x": {"field": "t", "type": "quantitative", "scale": {"domain": [10, 140]}, "axis": null},
            "y": {"field": "c", "type": "quantitative", "scale": {"type": "log", "domain": [3, 900]}, "axis": null}
          }
        },
        {
          "data": {"values": [{"s": "Molì"}]},
          "mark": {"type": "text", "fontSize": 18, "font": "Liberation Sans", "color": "black"},
          "encoding": {
            "text": {"field": "s"},
            "x": {"datum": 118.6, "type": "quantitative", "scale": {"domain": [10, 140]}, "axis": null},
            "y": {"datum": 435, "type": "quantitative", "scale": {"type": "log", "domain": [3, 900]}, "axis": null}
          }
        },
        {
          "data": {"name": "res"},
          "mark": {"type": "line", "color": "#008080", "strokeWidth": 1.2},
          "encoding": {
            "x": {"field": "t", "type": "quantitative", "scale": {"domain": [10, 140]},
                  "axis": {"orient": "top", "values": [10,20,30,40,50,60,70,80,90,100,110,120,130,140], "labels": false, "title": null, "tickSize": {"condition": {"test": "datum.value % 20 == 0", "value": -6}, "value": -3}}},
            "y": {"field": "r", "type": "quantitative", "scale": {"domain": [-30, 290]}, "axis": null}
          }
        },
        {
          "data": {"name": "pb"},
          "mark": {"type": "bar"},
          "encoding": {
            "x": {"field": "t", "type": "quantitative", "scale": {"domain": [10, 140]}, "axis": null},
            "x2": {"field": "t2"},
            "y": {"field": "p", "type": "nominal", "scale": {"type": "band", "domain": ["Kaolinite","Quartz","Calcite","Celestite","Apatite"], "range": [166.5, 238.5], "paddingInner": 0.279, "paddingOuter": 0}, "axis": null},
            "color": {"field": "p", "type": "nominal", "scale": {"domain": ["Kaolinite","Quartz","Calcite","Celestite","Apatite"], "range": ["#800000","#9b30ff","#228b22","#ff00ff","#0000ff"]}, "legend": null}
          }
        },
        {
          "data": {"name": "pt"},
          "mark": {"type": "tick", "thickness": 1.2, "size": 11},
          "encoding": {
            "x": {"field": "t", "type": "quantitative", "scale": {"domain": [10, 140]}, "axis": null},
            "y": {"field": "p", "type": "nominal", "scale": {"type": "band", "domain": ["Kaolinite","Quartz","Calcite","Celestite","Apatite"], "range": [166.5, 238.5], "paddingInner": 0.279, "paddingOuter": 0}, "axis": null},
            "color": {"field": "p", "type": "nominal", "scale": {"domain": ["Kaolinite","Quartz","Calcite","Celestite","Apatite"], "range": ["#800000","#9b30ff","#228b22","#ff00ff","#0000ff"]}, "legend": null}
          }
        },
        {
          "data": {"name": "phases"},
          "mark": {"type": "text", "align": "left", "dx": 6, "dy": -4, "fontSize": 18, "font": "Liberation Sans"},
          "encoding": {
            "text": {"field": "p"},
            "x": {"datum": 140, "type": "quantitative", "scale": {"domain": [10, 140]}, "axis": null},
            "y": {"field": "p", "type": "nominal", "scale": {"type": "band", "domain": ["Kaolinite","Quartz","Calcite","Celestite","Apatite"], "range": [166.5, 238.5], "paddingInner": 0.279, "paddingOuter": 0}, "axis": null},
            "color": {"field": "p", "type": "nominal", "scale": {"domain": ["Kaolinite","Quartz","Calcite","Celestite","Apatite"], "range": ["#8b1a1a","#8b2a9b","#1a8b1a","#ff1a8c","#1a1a9b"]}, "legend": null}
          }
        }
      ],
      "resolve": {"scale": {"y": "independent", "color": "independent"}, "axis": {"x": "independent", "y": "independent"}}
    },
    {
      "width": 387,
      "height": 288,
      "layer": [
        {
          "data": {"name": "xrf"},
          "mark": {"type": "line", "color": "#1a1a8c", "strokeWidth": 1.2},
          "encoding": {
            "x": {"field": "e", "type": "quantitative", "scale": {"domain": [1, 18], "nice": false},
                  "axis": {"orient": "bottom", "values": [1,2,3,4,5,6,7,8,9,10,11,12,13,14,15,16,17,18], "labelExpr": "datum.value % 2 == 0 ? '' + datum.value : ''", "tickSize": 5, "labelPadding": 8, "title": "Energy / keV", "titlePadding": 11}},
            "y": {"field": "c", "type": "quantitative", "scale": {"type": "log", "domain": [20, 30000], "nice": false},
                  "axis": {"values": [20,30,40,50,60,70,80,90,100,200,300,400,500,600,700,800,900,1000,2000,3000,4000,5000,6000,7000,8000,9000,10000,20000,30000], "labels": false, "tickSize": {"condition": {"test": "datum.value == 100 || datum.value == 1000 || datum.value == 10000", "value": 6}, "value": 3}, "title": "X-ray Fluorescence /arb. un.", "titlePadding": 12}}
          }
        },
        {
          "data": {"name": "xl"},
          "mark": {"type": "text", "font": "Liberation Sans", "color": "#111111"},
          "encoding": {
            "text": {"field": "s"},
            "x": {"field": "e", "type": "quantitative", "scale": {"domain": [1, 18], "nice": false}, "axis": null},
            "y": {"field": "v", "type": "quantitative", "scale": {"type": "log", "domain": [20, 30000], "nice": false}, "axis": null},
            "size": {"condition": {"test": "datum.s == 'Molì'", "value": 18}, "value": 16}
          }
        }
      ],
      "resolve": {"axis": {"x": "independent", "y": "independent"}}
    }
  ],
  "spacing": 156,
  "bounds": "flush"
}
